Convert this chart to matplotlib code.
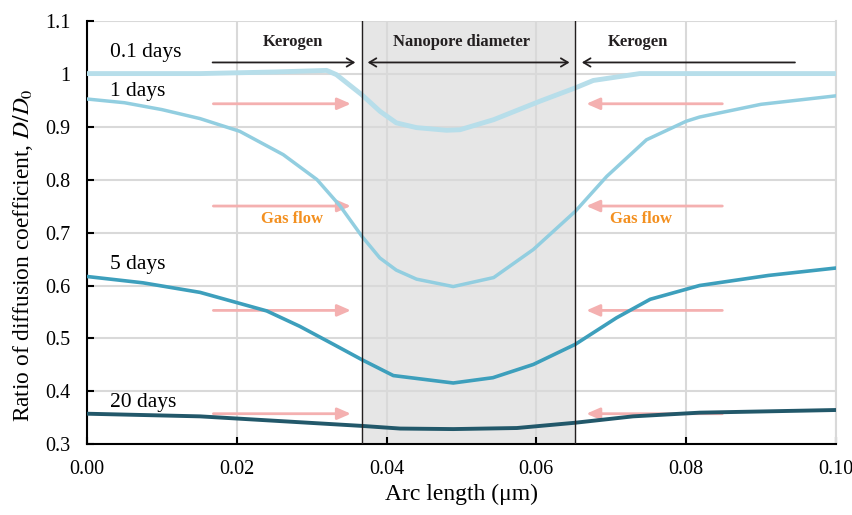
import matplotlib
matplotlib.use("Agg")
import matplotlib.pyplot as plt

plt.rcParams['font.family'] = ['Liberation Serif', 'DejaVu Serif']
plt.rcParams['mathtext.fontset'] = 'stix'

# curves
x_01 = [0, 0.01, 0.0151, 0.025, 0.032, 0.0333, 0.0367, 0.0391, 0.0413, 0.044, 0.048,
        0.0498, 0.0543, 0.0605, 0.0652, 0.0676, 0.0738, 0.08, 0.09, 0.1]
y_01 = [1.0, 1.0, 1.0, 1.003, 1.006, 0.998, 0.960, 0.929, 0.907, 0.898, 0.893,
        0.894, 0.913, 0.948, 0.973, 0.987, 1.0, 1.0, 1.0, 1.0]

x_1 = [0, 0.005, 0.01, 0.0151, 0.0204, 0.0262, 0.0307, 0.0338, 0.0367, 0.0391,
       0.0413, 0.044, 0.0489, 0.0543, 0.0596, 0.0652, 0.0694, 0.0747, 0.080,
       0.0818, 0.09, 0.1]
y_1 = [0.952, 0.945, 0.932, 0.915, 0.891, 0.847, 0.800, 0.750, 0.693, 0.652,
       0.629, 0.612, 0.598, 0.615, 0.668, 0.740, 0.806, 0.875, 0.910,
       0.918, 0.942, 0.958]

x_5 = [0, 0.0075, 0.0151, 0.024, 0.0284, 0.0329, 0.0367, 0.0409, 0.0489, 0.0542,
       0.0596, 0.0652, 0.0707, 0.0752, 0.0818, 0.091, 0.1]
y_5 = [0.617, 0.605, 0.587, 0.552, 0.523, 0.489, 0.460, 0.430, 0.416, 0.426,
       0.451, 0.489, 0.539, 0.574, 0.600, 0.619, 0.633]

x_20 = [0, 0.0151, 0.0367, 0.0418, 0.0489, 0.0574, 0.0652, 0.0729, 0.0818, 0.1]
y_20 = [0.358, 0.353, 0.335, 0.330, 0.329, 0.331, 0.341, 0.353, 0.360, 0.365]

pore_left, pore_right = 0.0367, 0.0652
flow_y = [0.943, 0.75, 0.553, 0.358]

fig = plt.figure(figsize=(8.53, 5.15), dpi=100)
ax = fig.add_axes([0.102, 0.137, 0.878, 0.823])

ax.axvspan(pore_left, pore_right, color='#e6e6e6', zorder=0)
ax.grid(True, color='#d9d9d9', lw=1.5, zorder=0.5)
ax.set_axisbelow(True)

ax.plot(x_01, y_01, color='#b7deea', lw=3.5, zorder=3)
ax.plot(x_1, y_1, color='#92cee0', lw=2.5, zorder=3)
ax.plot(x_5, y_5, color='#3d9fbc', lw=2.6, zorder=3)
ax.plot(x_20, y_20, color='#22586a', lw=2.8, zorder=3)

ax.axvline(pore_left, color='#231f20', lw=1.0, zorder=4)
ax.axvline(pore_right, color='#231f20', lw=1.0, zorder=4)

# gas flow arrows
pink = dict(arrowstyle='-|>,head_length=0.8,head_width=0.35', color='#f4b0b0', lw=2)
for fy in flow_y:
    ax.annotate('', xy=(0.0356, fy), xytext=(0.0165, fy), arrowprops=pink, zorder=2)
    ax.annotate('', xy=(0.0663, fy), xytext=(0.0852, fy), arrowprops=pink, zorder=2)

ax.text(0.0274, 0.726, 'Gas flow', color='#f39020', fontsize=12, fontweight='bold',
        ha='center', va='center')
ax.text(0.0740, 0.726, 'Gas flow', color='#f39020', fontsize=12, fontweight='bold',
        ha='center', va='center')

# kerogen / nanopore arrows
ak = dict(arrowstyle='->,head_length=0.5,head_width=0.3', color='#231f20', lw=1.3)
ax.annotate('', xy=(0.0362, 1.021), xytext=(0.0164, 1.021), arrowprops=ak)
ax.annotate('', xy=(0.0657, 1.021), xytext=(0.0949, 1.021), arrowprops=ak)
ax.annotate('', xy=(0.0371, 1.021), xytext=(0.0648, 1.021),
            arrowprops=dict(arrowstyle='<->,head_length=0.5,head_width=0.3',
                            color='#231f20', lw=1.3))
for tx, lbl in [(0.0275, 'Kerogen'), (0.0500, 'Nanopore diameter'), (0.0736, 'Kerogen')]:
    ax.text(tx, 1.06, lbl, fontsize=12, fontweight='bold', ha='center', va='center',
            color='#231f20')

# curve labels
ax.text(0.0031, 1.04, '0.1 days', fontsize=15.5, va='center')
ax.text(0.0031, 0.966, '1 days', fontsize=15.5, va='center')
ax.text(0.0031, 0.64, '5 days', fontsize=15.5, va='center')
ax.text(0.0031, 0.38, '20 days', fontsize=15.5, va='center')

ax.set_xlim(0, 0.1)
ax.set_ylim(0.3, 1.1)
ax.set_xticks([0, 0.02, 0.04, 0.06, 0.08, 0.10])
ax.set_xticklabels(['0.00', '0.02', '0.04', '0.06', '0.08', '0.10'])
ax.set_yticks([0.3, 0.4, 0.5, 0.6, 0.7, 0.8, 0.9, 1.0, 1.1])
ax.set_yticklabels(['0.3', '0.4', '0.5', '0.6', '0.7', '0.8', '0.9', '1', '1.1'])
ax.tick_params(direction='in', length=5, width=1.5, labelsize=14.5)
ax.tick_params(axis='x', pad=11)
ax.tick_params(axis='y', pad=12)

ax.spines['top'].set_visible(False)
ax.spines['right'].set_color('#d9d9d9')
ax.spines['right'].set_linewidth(1.5)
ax.spines['left'].set_linewidth(1.5)
ax.spines['bottom'].set_linewidth(1.5)

ax.set_xlabel('Arc length (μm)', fontsize=17, labelpad=4)
ax.set_ylabel('Ratio of diffusion coefficient, $D/D_0$', fontsize=16.8)
ax.yaxis.set_label_coords(-0.069, 0.446)

fig.savefig('out.png', dpi=100)
